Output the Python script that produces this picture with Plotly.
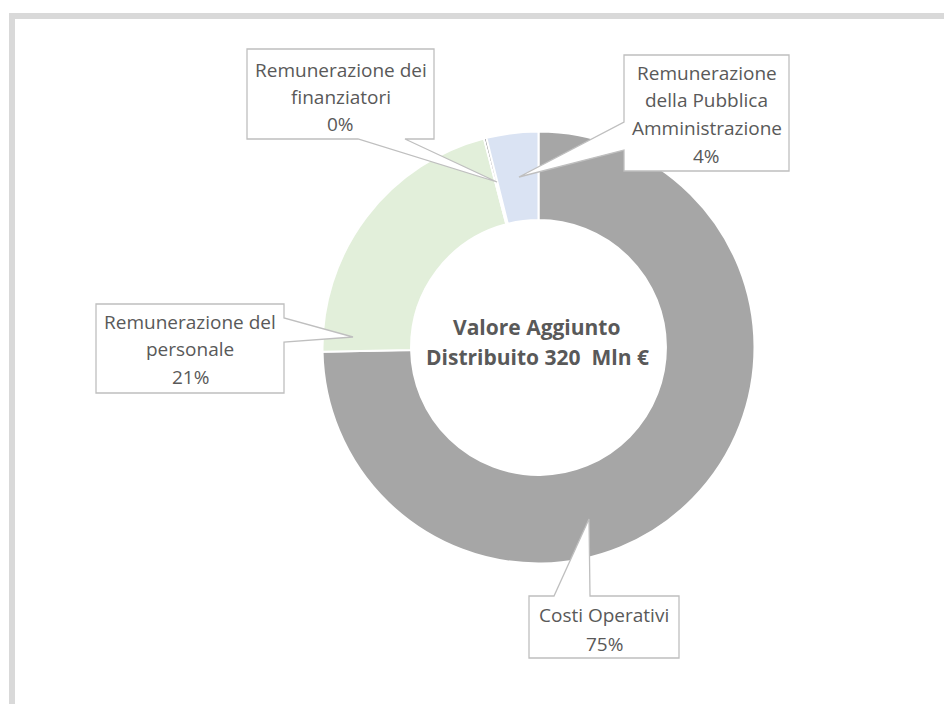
import plotly.graph_objects as go

# ---- data ----
categories = ["Costi Operativi", "Remunerazione del personale",
              "Remunerazione dei finanziatori",
              "Remunerazione della Pubblica Amministrazione"]
values = [239, 68, 0.6, 12.4]          # Mln €
label_lines = [["Costi Operativi"],
               ["Remunerazione del", "personale"],
               ["Remunerazione dei", "finanziatori"],
               ["Remunerazione", "della Pubblica", "Amministrazione"]]
center_lines = ["Valore Aggiunto", "Distribuito 320  Mln €"]
colors = ["#a6a6a6", "#e2efda", "#6f6f6f", "#dae3f3"]

OFF = 8                     # default page margin of the html body
W, H = 952 - OFF, 704 - OFF
TXT = "#595959"
FONT = "Open Sans"


def px(x):
    return (x - OFF) / W


def py(y):
    return 1 - (y - OFF) / H


def path(points):
    return "M " + " L ".join(f"{px(x):.5f},{py(y):.5f}" for x, y in points) + " Z"


total = sum(values)
pcts = [f"{round(v / total * 100)}%" for v in values]

fig = go.Figure()
fig.add_trace(go.Pie(
    labels=categories, values=values, sort=False, direction="clockwise",
    rotation=0, hole=0.59, textinfo="none", hoverinfo="label+percent",
    marker=dict(colors=colors, line=dict(color="white", width=2)),
    domain=dict(x=[px(322.5), px(754.5)], y=[py(563.5), py(131.5)]),
    showlegend=False,
))

# callout shapes (box + wedge), screen-pixel layout
callouts = [
    # Costi Operativi
    [(529, 596), (554, 596), (589, 519), (590, 596), (679, 596), (679, 658), (529, 658)],
    # personale
    [(96, 304), (284, 304), (284, 318), (353, 337), (284, 342), (284, 393), (96, 393)],
    # finanziatori
    [(247, 49), (434, 49), (434, 139), (405, 139), (497, 182), (358, 139), (247, 139)],
    # PA
    [(624, 55), (789, 55), (789, 171), (624, 171), (624, 150), (519, 177), (624, 122)],
]
frame = dict(color="#d9d9d9", width=6)
shapes = [
    dict(type="line", xref="paper", yref="paper",
         x0=px(9), x1=px(952), y0=py(16), y1=py(16), line=frame),
    dict(type="line", xref="paper", yref="paper",
         x0=px(12), x1=px(12), y0=py(13), y1=py(704), line=frame),
]
for pts in callouts:
    shapes.append(dict(type="path", xref="paper", yref="paper", path=path(pts),
                       fillcolor="white", line=dict(color="#bfbfbf", width=1.3),
                       layer="above"))

# text positions for each label (center x, first line center y, spacing)
label_pos = [(604, 615, 28.5), (190, 322, 27.5), (340.5, 70, 27), (706.5, 73, 27.5)]
annotations = []
for lines, pct, (cx, y0, dy) in zip(label_lines, pcts, label_pos):
    for i, t in enumerate(lines + [pct]):
        annotations.append(dict(
            x=px(cx), y=py(y0 + i * dy), xref="paper", yref="paper",
            text=t, showarrow=False, xanchor="center", yanchor="middle",
            font=dict(family=FONT, size=19, color=TXT)))

for i, t in enumerate(center_lines):
    annotations.append(dict(
        x=px(537), y=py(326.5 + i * 30.5), xref="paper", yref="paper",
        text=f"<b>{t}</b>", showarrow=False, xanchor="center", yanchor="middle",
        font=dict(family=FONT, size=21, color=TXT)))

fig.update_layout(
    width=W, height=H, margin=dict(l=0, r=0, t=0, b=0),
    paper_bgcolor="white", plot_bgcolor="white",
    shapes=shapes, annotations=annotations,
)

fig.write_html("out.html")
